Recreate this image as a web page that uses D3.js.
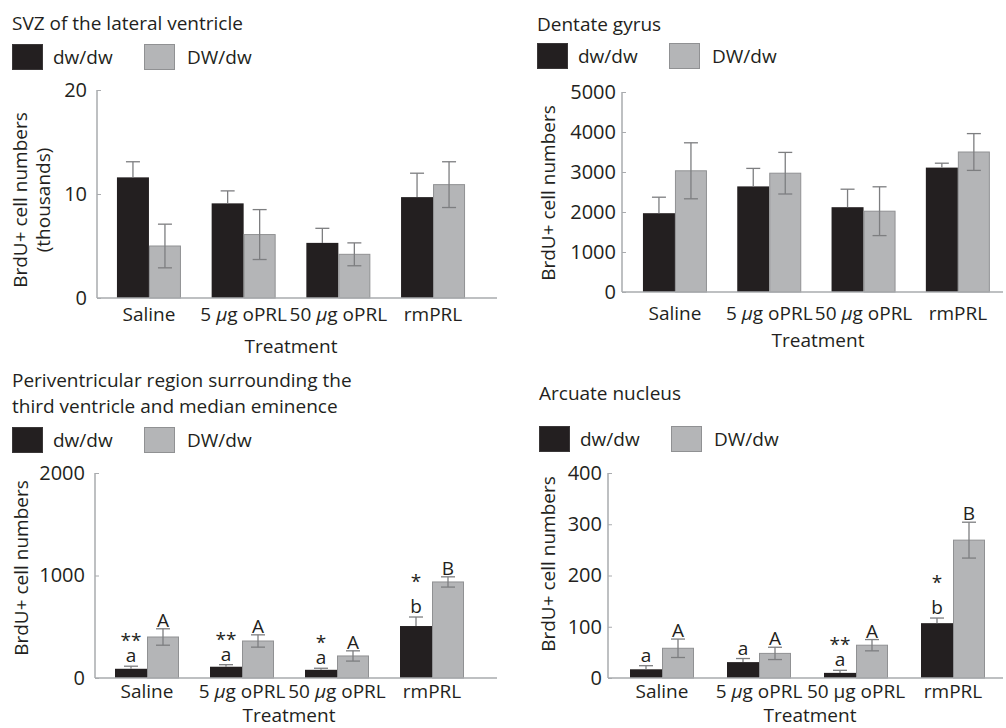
<!DOCTYPE html>
<html><head><meta charset="utf-8">
<script src="https://cdn.jsdelivr.net/npm/d3@7"></script>
<style>
body{margin:0;background:#fff}
svg text{font-family:"Open Sans",sans-serif;fill:#231f20}
</style></head><body>
<svg id="c" width="1006" height="728"></svg>
<script>
// ---------- data ----------
const categories = ["Saline", "5 µg oPRL", "50 µg oPRL", "rmPRL"];
const series = ["dw/dw", "DW/dw"];

const svzDw = [11.6, 9.1, 5.3, 9.7];
const svzDwErr = [1.5, 1.2, 1.4, 2.3];
const svzDW = [5.0, 6.1, 4.2, 10.9];
const svzDWErr = [2.1, 2.4, 1.1, 2.2];
const svzTicks = [0, 10, 20];

const dgDw = [1970, 2640, 2120, 3110];
const dgDwErr = [400, 450, 450, 110];
const dgDW = [3030, 2970, 2020, 3500];
const dgDWErr = [700, 520, 610, 460];
const dgTicks = [0, 1000, 2000, 3000, 4000, 5000];

const pvDw = [90, 110, 80, 507];
const pvDwErr = [25, 20, 15, 88];
const pvDW = [400, 361, 215, 937];
const pvDWErr = [80, 60, 50, 50];
const pvTicks = [0, 1000, 2000];
const pvDwLetters = ["a", "a", "a", "b"];
const pvDwStars = ["**", "**", "*", "*"];
const pvDWLetters = ["A", "A", "A", "B"];

const arcDw = [17, 31, 10, 107];
const arcDwErr = [7, 7, 5, 10];
const arcDW = [58, 48, 64, 269];
const arcDWErr = [18, 12, 11, 35];
const arcTicks = [0, 100, 200, 300, 400];
const arcDwLetters = ["a", "a", "a", "b"];
const arcDwStars = ["", "", "**", "*"];
const arcDWLetters = ["A", "A", "A", "B"];

// ---------- layout ----------
const svg = d3.select("#c");
const FS = 19;
const colBlack = "#231f20", colGrey = "#b4b5b7", colGreyEdge = "#909193";
const colAxis = "#a9abae", colErr = "#7d7e80";

const panels = [
  {title:["SVZ of the lateral ventricle"], titleX:12, titleY:[30], legY:44,
   yLabel:["BrdU+ cell numbers","(thousands)"], yLabX:[27,50], yLabY:200,
   ax:97, y0:298, yTop:90, ticks:svzTicks, xr:[101.6,480.4], axEnd:497, tickPad:10,
   tlY:321, trX:291, trY:353, italic:[true,true],
   dw:svzDw, dwErr:svzDwErr, DW:svzDW, DWErr:svzDWErr},
  {title:["Dentate gyrus"], titleX:537, titleY:31, legY:43,
   yLabel:["BrdU+ cell numbers"], yLabX:[555], yLabY:193,
   ax:622, y0:292, yTop:92, ticks:dgTicks, xr:[627.8,1005], axEnd:1003, tickPad:6,
   tlY:320, trX:818, trY:347, italic:[true,true],
   dw:dgDw, dwErr:dgDwErr, DW:dgDW, DWErr:dgDWErr},
  {title:["Periventricular region surrounding the","third ventricle and median eminence"], titleX:12, titleY:[387,413], legY:427,
   yLabel:["BrdU+ cell numbers"], yLabX:[28], yLabY:568,
   ax:95, y0:678, yTop:473, ticks:pvTicks, xr:[99.5,479.5], axEnd:497, tickPad:10,
   tlY:698, trX:289, trY:722, italic:[true,true],
   dw:pvDw, dwErr:pvDwErr, DW:pvDW, DWErr:pvDWErr,
   dwLetters:pvDwLetters, dwStars:pvDwStars, DWLetters:pvDWLetters},
  {title:["Arcuate nucleus"], titleX:539, titleY:[400], legY:426,
   yLabel:["BrdU+ cell numbers"], yLabX:[555], yLabY:564,
   ax:608, y0:678, yTop:473, ticks:arcTicks, xr:[613.5,1001.5], axEnd:1003, tickPad:6,
   tlY:698, trX:810, trY:722, italic:[true,false],
   dw:arcDw, dwErr:arcDwErr, DW:arcDW, DWErr:arcDWErr,
   dwLetters:arcDwLetters, dwStars:arcDwStars, DWLetters:arcDWLetters}
];

panels.forEach(p => {
  const g = svg.append("g");
  const titles = Array.isArray(p.titleY) ? p.titleY : [p.titleY];
  p.title.forEach((t, i) => g.append("text").attr("x", p.titleX).attr("y", titles[i])
    .attr("font-size", FS).text(t));

  // legend
  const legOff = [[0, 41], [132, 175]];
  series.forEach((s, i) => {
    g.append("rect").attr("x", p.titleX + legOff[i][0] + 0.5).attr("y", p.legY + 0.5)
      .attr("width", 30).attr("height", 25)
      .attr("fill", i ? colGrey : colBlack).attr("stroke", i ? colGreyEdge : "#3a3738").attr("stroke-width", 1);
    g.append("text").attr("x", p.titleX + legOff[i][1]).attr("y", p.legY + 20)
      .attr("font-size", FS).text(s);
  });

  const yMax = p.ticks[p.ticks.length - 1];
  const y = d3.scaleLinear().domain([0, yMax]).range([p.y0, p.yTop]);
  const x = d3.scalePoint().domain(categories).range(p.xr).padding(0.5);
  const xs = d3.scaleBand().domain(series).range([-32, 32]);

  // y axis
  const ya = g.append("g").attr("transform", `translate(${p.ax},0)`)
    .call(d3.axisLeft(y).tickValues(p.ticks).tickSize(-4).tickPadding(p.tickPad).tickFormat(d3.format("d")));
  ya.select(".domain").attr("stroke", colAxis).attr("stroke-width", 1.5).attr("d", `M0,${p.yTop}V${p.y0}`);
  ya.selectAll(".tick line").attr("stroke", colAxis).attr("stroke-width", 1);
  ya.selectAll(".tick text").attr("font-size", 20).attr("font-family", null).attr("fill", colBlack);
  ya.attr("font-family", null);

  // y label
  p.yLabel.forEach((t, i) => g.append("text")
    .attr("transform", `translate(${p.yLabX[i]},${p.yLabY}) rotate(-90)`)
    .attr("text-anchor", "middle").attr("font-size", FS).text(t));

  // bars
  const vals = [p.dw, p.DW], errs = [p.dwErr, p.DWErr];
  series.forEach((s, si) => {
    categories.forEach((c, ci) => {
      const bx = x(c) + xs(s), v = vals[si][ci], e = errs[si][ci];
      g.append("rect").attr("x", bx + (si ? 0.5 : 0)).attr("y", y(v))
        .attr("width", xs.bandwidth() - (si ? 1 : 0)).attr("height", p.y0 - y(v))
        .attr("fill", si ? colGrey : colBlack)
        .attr("stroke", si ? colGreyEdge : "none").attr("stroke-width", 1);
      const cx = bx + xs.bandwidth() / 2;
      const lo = si ? y(Math.max(0, v - e)) : y(v);
      g.append("line").attr("x1", cx).attr("x2", cx).attr("y1", y(v + e)).attr("y2", lo)
        .attr("stroke", colErr).attr("stroke-width", 1.3);
      g.append("line").attr("x1", cx - 7).attr("x2", cx + 7).attr("y1", y(v + e)).attr("y2", y(v + e))
        .attr("stroke", colErr).attr("stroke-width", 1.3);
      if (si && e < v) {
        g.append("line").attr("x1", cx - 7).attr("x2", cx + 7).attr("y1", lo).attr("y2", lo)
          .attr("stroke", colErr).attr("stroke-width", 1.3);
      }
      // annotations
      if (p.dwLetters) {
        const top = y(v + e);
        if (si === 0) {
          const L = p.dwLetters[ci];
          g.append("text").attr("x", cx).attr("y", top - 4).attr("text-anchor", "middle")
            .attr("font-size", FS).text(L);
          const st = p.dwStars[ci];
          if (st) g.append("text").attr("x", cx).attr("y", top - 4 - (L === "b" ? 25 : 15))
            .attr("text-anchor", "middle").attr("font-size", FS).text(st);
        } else {
          g.append("text").attr("x", cx).attr("y", top - 2).attr("text-anchor", "middle")
            .attr("font-size", FS).text(p.DWLetters[ci]);
        }
      }
    });
  });

  // x axis line
  g.append("line").attr("x1", p.ax).attr("x2", p.axEnd).attr("y1", p.y0).attr("y2", p.y0)
    .attr("stroke", colAxis).attr("stroke-width", 1.5);

  // x tick labels
  categories.forEach((c, ci) => {
    const t = g.append("text").attr("x", x(c)).attr("y", p.tlY).attr("text-anchor", "middle")
      .attr("font-size", FS);
    const parts = c.split("µ");
    if (parts.length > 1) {
      t.append("tspan").text(parts[0]);
      t.append("tspan").attr("font-style", p.italic[ci - 1] ? "italic" : "normal").text("µ");
      t.append("tspan").text(parts[1]);
    } else t.text(c);
  });
  g.append("text").attr("x", p.trX).attr("y", p.trY).attr("text-anchor", "middle").attr("font-size", FS).text("Treatment");
});
</script>
</body></html>
